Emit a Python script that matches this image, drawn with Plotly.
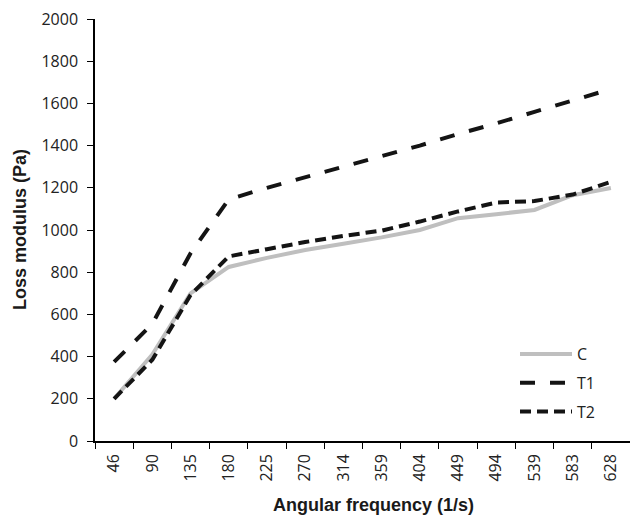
import plotly.graph_objects as go

freq = ["46", "90", "135", "180", "225", "270", "314", "359", "404", "449", "494", "539", "583", "628"]
c_vals = [200, 410, 700, 825, 868, 905, 935, 965, 1000, 1056, 1075, 1095, 1165, 1199]
t1_vals = [375, 555, 890, 1145, 1200, 1250, 1300, 1350, 1400, 1455, 1505, 1560, 1612, 1668]
t2_vals = [200, 385, 692, 875, 909, 943, 972, 997, 1040, 1088, 1130, 1137, 1168, 1228]
y_ticks = [0, 200, 400, 600, 800, 1000, 1200, 1400, 1600, 1800, 2000]

fig = go.Figure()
fig.add_trace(go.Scatter(x=freq, y=c_vals, name="C", mode="lines", legendgroup="C",
                         line=dict(color="#bfbfbf", width=4)))
fig.add_trace(go.Scatter(x=freq, y=t1_vals, name="T1", mode="lines", legendgroup="T1",
                         line=dict(color="#141414", width=4, dash="15px,15px")))
fig.add_trace(go.Scatter(x=freq, y=t2_vals, name="T2", mode="lines", legendgroup="T2",
                         line=dict(color="#141414", width=4, dash="11px,6px")))

tickfont = dict(family="Open Sans", size=16, color="#222222")
PL, PT, PW, PH = 95, 19, 535, 422
W, H = 630, 517

def px(x):
    return (x - PL) / PW

def py(y):
    return (PT + PH - y) / PH

fig.update_layout(
    width=W, height=H,
    margin=dict(l=PL, r=W - PL - PW, t=PT, b=H - PT - PH, autoexpand=False),
    paper_bgcolor="white", plot_bgcolor="white",
    showlegend=True,
    legend=dict(x=px(515), y=py(337), xanchor="left", yanchor="top",
                font=dict(family="Open Sans", size=16, color="#222222"),
                itemwidth=52, tracegroupgap=5, traceorder="grouped",
                bgcolor="rgba(0,0,0,0)"),
    xaxis=dict(type="category", range=[-0.5, 13.5], showline=True, linecolor="black",
               linewidth=1.5, ticks="outside", ticklen=6, tickcolor="black",
               tickson="boundaries", tickangle=-90, tickfont=tickfont,
               ticklabelstandoff=5,
               showgrid=False, zeroline=False, automargin=False),
    yaxis=dict(range=[0, 2000], tickmode="array", tickvals=y_ticks,
               ticktext=[str(v) for v in y_ticks], showline=True, linecolor="black",
               linewidth=1.5, ticks="outside", ticklen=6, tickcolor="black",
               tickfont=tickfont, ticklabelstandoff=6,
               showgrid=False, zeroline=False, automargin=False),
)
fig.add_annotation(text="<b>Angular frequency (1/s)</b>", xref="paper", yref="paper",
                   x=px(373), y=py(505), xanchor="center", yanchor="middle", showarrow=False,
                   font=dict(family="Liberation Sans", size=18, color="#1a1a1a"))
fig.add_annotation(text="<b>Loss modulus (Pa)</b>", textangle=-90, xref="paper", yref="paper",
                   x=px(20), y=py(230), xanchor="center", yanchor="middle", showarrow=False,
                   font=dict(family="Liberation Sans", size=18, color="#1a1a1a"))

fig.write_html("out.html", config={"displayModeBar": False},
               post_script="document.body.style.margin='0px';document.body.style.padding='0px';")
